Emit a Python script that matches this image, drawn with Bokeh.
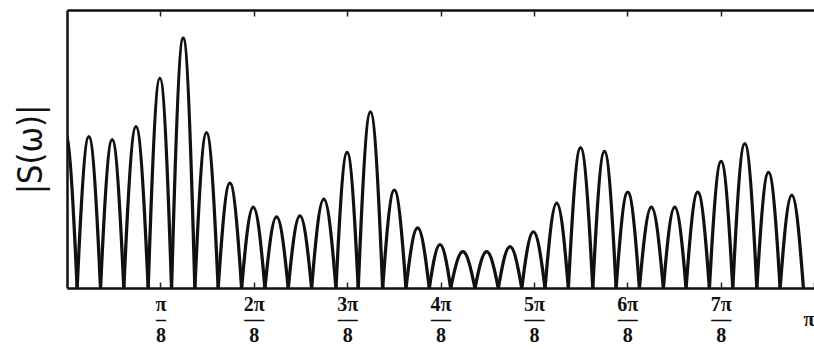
from bokeh.plotting import figure
from bokeh.models import Range1d, FixedTicker, LinearAxis, ColumnDataSource
from bokeh.embed import file_html
from bokeh.resources import INLINE

# zero crossings of |S(w)|, in units of pi (first one lies just left of w = 0)
nulls = [-0.0184, 0.0129, 0.0442, 0.0754, 0.1080, 0.1393, 0.1705, 0.2017,
         0.2331, 0.2643, 0.2955, 0.3268, 0.3594, 0.3892, 0.4219, 0.4531,
         0.4843, 0.5130, 0.5455, 0.5767, 0.6081, 0.6393, 0.6705, 0.7032,
         0.7344, 0.7656, 0.7977, 0.8281, 0.8593, 0.8906, 0.9228, 0.9540,
         0.9852]
# height of each lobe between consecutive zeros (arbitrary units)
peaks = [0.620, 0.607, 0.595, 0.647, 0.841, 1.000, 0.623, 0.421,
         0.325, 0.286, 0.290, 0.357, 0.544, 0.706, 0.393, 0.242,
         0.175, 0.147, 0.147, 0.167, 0.226, 0.341, 0.563, 0.548,
         0.385, 0.325, 0.325, 0.385, 0.508, 0.579, 0.464, 0.373]

tick_pos = [1/8, 2/8, 3/8, 4/8, 5/8, 6/8, 7/8]
tick_num = ["π", "2π", "3π", "4π", "5π", "6π", "7π"]
tick_bar = ["–", "—", "—", "—", "—", "—", "—"]
tick_den = ["8", "8", "8", "8", "8", "8", "8"]
end_pos = 1.0
end_label = "π"
y_label = "|S(ω)|"

# build lobe arches (cubic Bezier approximating a half sine)
a = 0.40
x0 = nulls[:-1]
x1 = nulls[1:]
src = ColumnDataSource(dict(
    x0=x0, y0=[0] * len(peaks), x1=x1, y1=[0] * len(peaks),
    cx0=[l + a * (r - l) for l, r in zip(x0, x1)],
    cx1=[r - a * (r - l) for l, r in zip(x0, x1)],
    cy0=[4 * h / 3 for h in peaks], cy1=[4 * h / 3 for h in peaks],
))

p = figure(width=814, height=349, output_backend="svg", toolbar_location=None,
           x_range=Range1d(0, 1.0), y_range=Range1d(0, 1.111),
           x_axis_location=None, y_axis_location=None,
           min_border_left=67, min_border_right=0, min_border_top=10,
           min_border_bottom=59)
p.outline_line_color = None
p.background_fill_color = "white"
p.border_fill_color = "white"
p.xgrid.visible = False
p.ygrid.visible = False

p.bezier(x0="x0", y0="y0", x1="x1", y1="y1", cx0="cx0", cy0="cy0",
         cx1="cx1", cy1="cy1", source=src, line_color="#111111", line_width=3.3)

def style_x_axis(ax):
    ax.major_tick_in = 6
    ax.major_tick_out = 0
    ax.major_tick_line_width = 1.5
    ax.major_tick_line_color = "#222222"
    ax.minor_tick_line_color = None
    ax.axis_line_width = 2.5
    ax.axis_line_color = "#111111"
    return ax

bottom = style_x_axis(LinearAxis(ticker=FixedTicker(ticks=tick_pos + [end_pos])))
overrides = {t: f"{n}\n{b}\n{d}" for t, n, b, d in zip(tick_pos, tick_num, tick_bar, tick_den)}
overrides[end_pos] = f" \n{end_label}\n "
bottom.major_label_overrides = overrides
bottom.major_label_text_font = "Liberation Serif"
bottom.major_label_text_font_style = "bold"
bottom.major_label_text_font_size = "20px"
bottom.major_label_text_line_height = 0.72
bottom.major_label_text_color = "#111111"
bottom.major_label_standoff = 4
p.add_layout(bottom, "below")

top = style_x_axis(LinearAxis(ticker=FixedTicker(ticks=tick_pos)))
top.major_label_text_font_size = "0px"
top.major_label_text_color = None
top.major_label_standoff = 0
p.add_layout(top, "above")

ly = LinearAxis(ticker=FixedTicker(ticks=[]))
ly.axis_line_width = 2.5
ly.axis_line_color = "#111111"
ly.major_tick_line_color = None
ly.minor_tick_line_color = None
ly.major_label_text_font_size = "0px"
ly.major_label_text_color = None
ly.major_label_standoff = 0
ly.axis_label = y_label
ly.axis_label_text_font = "'DejaVu Sans Condensed', 'Liberation Sans'"
ly.axis_label_text_font_style = "normal"
ly.axis_label_text_font_size = "34px"
ly.axis_label_text_color = "#111111"
ly.axis_label_standoff = 18
p.add_layout(ly, "left")

open("out.html", "w").write(file_html(p, INLINE))
